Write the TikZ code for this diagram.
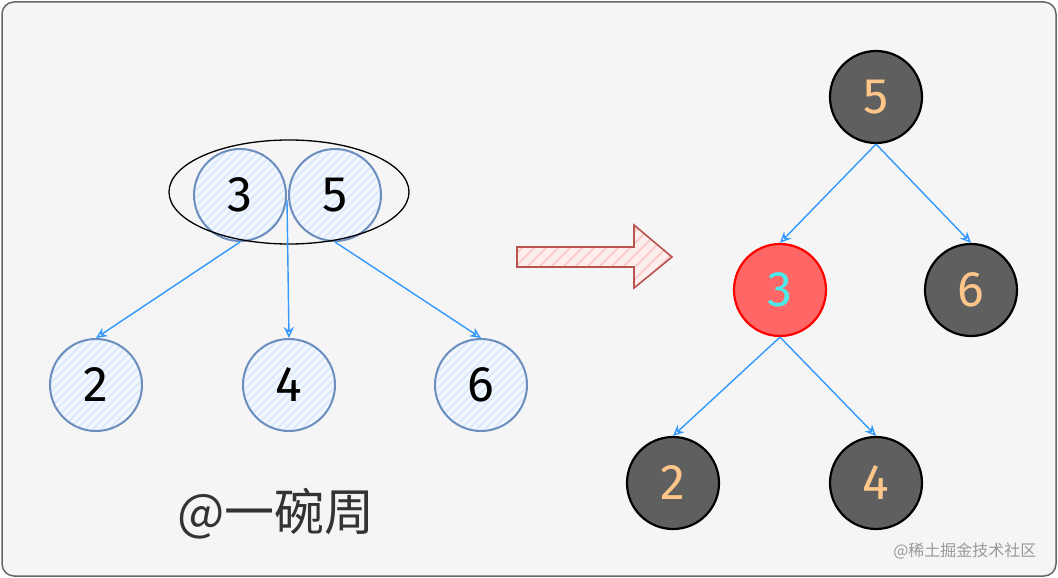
\documentclass[tikz,border=0pt]{standalone}
\usepackage{fontspec}
\setmainfont{Fira Sans}
\newfontfamily\cjk{Noto Sans CJK SC}
\usetikzlibrary{arrows.meta,patterns}
\pgfdeclarepatternformonly{widehatch}{\pgfqpoint{-1pt}{-1pt}}{\pgfqpoint{9pt}{9pt}}{\pgfqpoint{8pt}{8pt}}{%
  \pgfsetlinewidth{1.6pt}\pgfpathmoveto{\pgfqpoint{-0.5pt}{-0.5pt}}\pgfpathlineto{\pgfqpoint{8.5pt}{8.5pt}}\pgfusepath{stroke}}
\pgfdeclarepatternformonly{widehatchb}{\pgfqpoint{-1pt}{-1pt}}{\pgfqpoint{13pt}{13pt}}{\pgfqpoint{12pt}{12pt}}{%
  \pgfsetlinewidth{1.8pt}\pgfpathmoveto{\pgfqpoint{-0.5pt}{-0.5pt}}\pgfpathlineto{\pgfqpoint{12.5pt}{12.5pt}}\pgfusepath{stroke}}
\definecolor{bgc}{HTML}{F5F5F5}
\definecolor{framec}{HTML}{666666}
\definecolor{bstroke}{HTML}{6C8EBF}
\definecolor{bfill}{HTML}{DAE8FC}
\definecolor{edgec}{HTML}{3399FF}
\definecolor{darkf}{HTML}{5F5F5F}
\definecolor{peach}{HTML}{FFC68A}
\definecolor{redf}{HTML}{FF6666}
\definecolor{cyantext}{HTML}{4DE8E8}
\definecolor{arrs}{HTML}{B85450}
\definecolor{arrf}{HTML}{F8CECC}
\tikzset{
  x=1pt,y=-1pt,
  bluenode/.style={circle,minimum size=92pt,inner sep=0pt,draw=bstroke,line width=2pt,
    preaction={fill=bfill!35},pattern=widehatch,pattern color=bfill,
    font=\fontsize{50}{50}\selectfont,text=black},
  darknode/.style={circle,minimum size=92pt,inner sep=0pt,draw=black,line width=2.2pt,fill=darkf,
    font=\fontsize{50}{50}\selectfont,text=peach},
  rednode/.style={circle,minimum size=92pt,inner sep=0pt,draw=red,line width=2.2pt,fill=redf,
    font=\fontsize{50}{50}\selectfont,text=cyantext},
  edge/.style={draw=edgec,line width=1.4pt,-{Stealth[open,length=11pt,width=10pt]}},
}
\begin{document}
\begin{tikzpicture}
\useasboundingbox (0,0) rectangle (1058,578);
\draw[fill=bgc,draw=framec,line width=1.5pt,rounded corners=12pt] (2,2) rectangle (1056,576);
% left
\node[bluenode] (l3) at (240,195) {3};
\node[bluenode] (l5) at (335,195) {5};
\draw[black,line width=1.3pt] (289,192) ellipse [x radius=120, y radius=52];
\coordinate (grp) at (287,200);
\node[bluenode] (l2) at (96,385) {2};
\node[bluenode] (l4) at (289,385) {4};
\node[bluenode] (l6) at (481,385) {6};
\draw[edge] (l3.south) -- (l2.north);
\draw[edge] (grp) -- (l4.north);
\draw[edge] (l5.south) -- (l6.north);
\node[font=\cjk\fontsize{50}{50}\selectfont,text=black!80] (author) at (276,514) {@一碗周};
% big arrow
\draw[draw=arrs,line width=1.6pt,preaction={fill=arrf!35},pattern=widehatchb,pattern color=arrf]
  (517,247) -- (634,247) -- (634,225) -- (672,257) -- (634,288) -- (634,267) -- (517,267) -- cycle;
% right
\node[darknode] (r5) at (876,97) {5};
\node[rednode] (r3) at (780,290) {3};
\node[darknode] (r6) at (971,290) {6};
\node[darknode] (r2) at (673,483) {2};
\node[darknode] (r4) at (876,483) {4};
\draw[edge] (r5.south) -- (r3.north);
\draw[edge] (r5.south) -- (r6.north);
\draw[edge] (r3.south) -- (r2.north);
\draw[edge] (r3.south) -- (r4.north);
\node[font=\cjk\fontsize{16}{16}\selectfont,text=black!40,anchor=east] (wm) at (1040,551) {@稀土掘金技术社区};
\end{tikzpicture}
\end{document}
